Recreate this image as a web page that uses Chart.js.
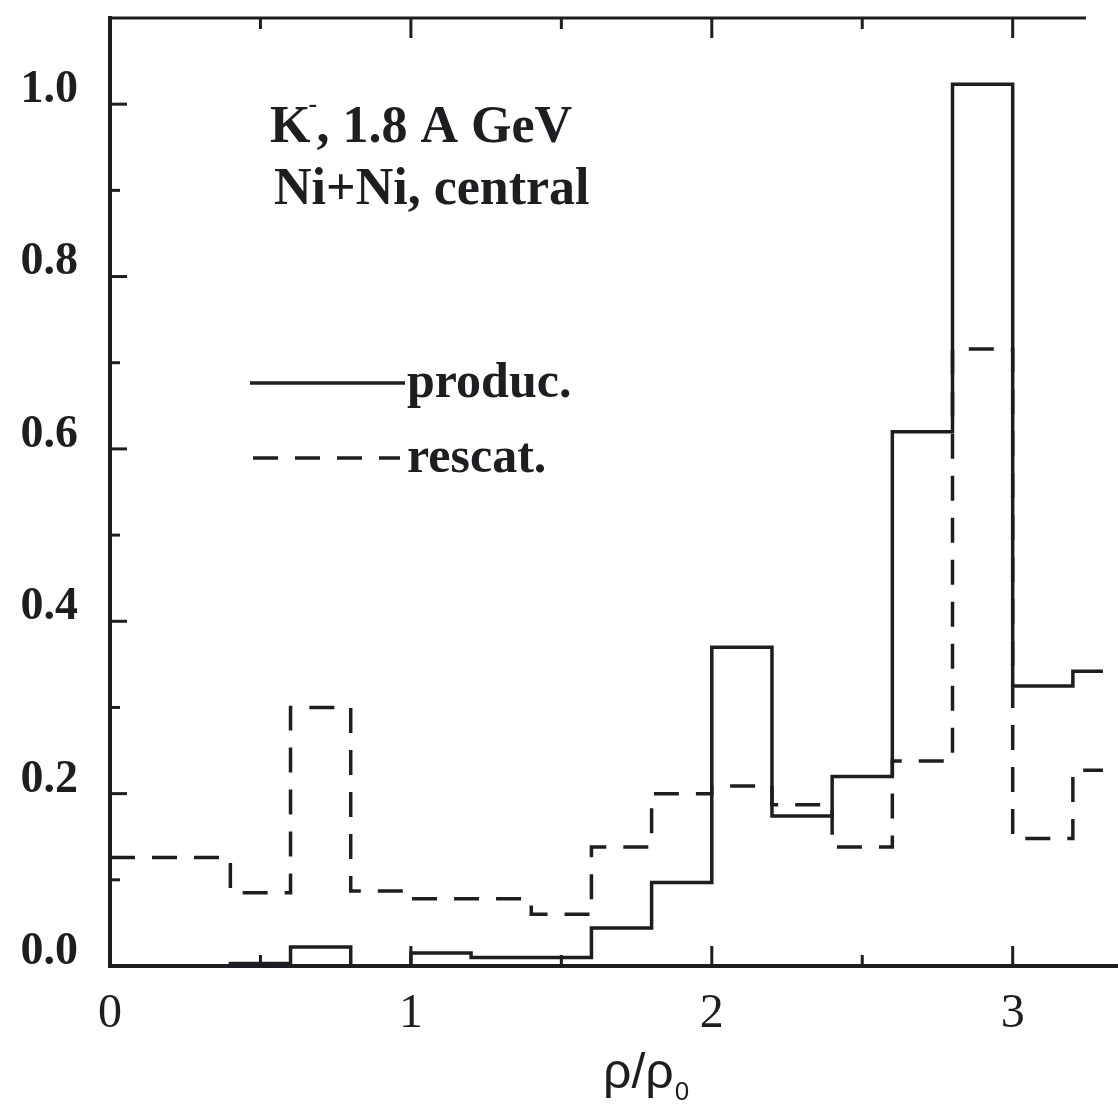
<!DOCTYPE html>
<html>
<head>
<meta charset="utf-8">
<style>
  html, body { margin: 0; padding: 0; background: #fff; }
  canvas { display: block; }
</style>
<script src="https://cdn.jsdelivr.net/npm/chart.js@4.4.1/dist/chart.umd.min.js"></script>
</head>
<body>
<canvas id="c" width="1118" height="1113"></canvas>
<script>
// Histogram bin edges in rho/rho0 (last bin is cut at the frame edge)
const binEdges = [0.0, 0.2, 0.4, 0.6, 0.8, 1.0, 1.2, 1.4, 1.6, 1.8, 2.0, 2.2, 2.4, 2.6, 2.8, 3.0, 3.2, 3.3];

// K- production density distribution (solid)
const produc = [0.0, 0.0, 0.003, 0.022, 0.0, 0.015, 0.010, 0.010, 0.044, 0.097, 0.370, 0.174, 0.220, 0.620, 1.023, 0.325, 0.342];

// K- last rescattering density distribution (dashed)
const rescat = [0.126, 0.126, 0.085, 0.300, 0.087, 0.078, 0.078, 0.060, 0.138, 0.200, 0.209, 0.187, 0.138, 0.238, 0.716, 0.148, 0.227];

const yTickValues = [0.0, 0.2, 0.4, 0.6, 0.8, 1.0];
const yTickLabels = ['0.0', '0.2', '0.4', '0.6', '0.8', '1.0'];
const xTickValues = [0, 1, 2, 3];
const xTickLabels = ['0', '1', '2', '3'];
const seriesNames = ['produc.', 'rescat.'];

const INK = '#1e1e22';
const DASH = [25, 17];

// Left-edge step points, plus a closing point at the right edge of the last bin
function toSteps(values) {
  const pts = values.map((v, i) => ({ x: binEdges[i], y: v }));
  pts.push({ x: binEdges[binEdges.length - 1], y: values[values.length - 1] });
  return pts;
}

// Inward tick marks on left, bottom and top edges, plus the top frame line
const frameTicks = {
  id: 'frameTicks',
  afterDraw(chart) {
    const { ctx, chartArea: a, scales: { x, y } } = chart;
    ctx.save();
    ctx.strokeStyle = INK;
    ctx.lineWidth = 3;
    ctx.setLineDash([]);
    // top frame line
    ctx.beginPath();
    ctx.moveTo(a.left, a.top);
    ctx.lineTo(1086, a.top);
    ctx.stroke();
    // y ticks every 0.1, major every 0.2
    for (let i = 0; i <= 10; i++) {
      const py = y.getPixelForValue(i / 10);
      const len = i % 2 === 0 ? 17 : 10;
      ctx.beginPath();
      ctx.moveTo(a.left, py);
      ctx.lineTo(a.left + len, py);
      ctx.stroke();
    }
    // x ticks every 0.5, major on integers
    for (let i = 0; i <= 6; i++) {
      const px = x.getPixelForValue(i / 2);
      const len = i % 2 === 0 ? 20 : 11;
      ctx.beginPath();
      ctx.moveTo(px, a.bottom);
      ctx.lineTo(px, a.bottom - len);
      ctx.stroke();
      if (px < 1086) {
        ctx.beginPath();
        ctx.moveTo(px, a.top);
        ctx.lineTo(px, a.top + len);
        ctx.stroke();
      }
    }
    ctx.restore();
  }
};

// Reaction label, legend and x-axis title
const annotations = {
  id: 'annotations',
  afterDraw(chart) {
    const ctx = chart.ctx;
    const ds = chart.data.datasets;
    ctx.save();
    ctx.fillStyle = INK;
    ctx.textBaseline = 'alphabetic';
    ctx.textAlign = 'left';

    // "K-, 1.8 A GeV"
    ctx.font = 'bold 52px "Liberation Serif", serif';
    ctx.fillText('K', 270, 142);
    let w = ctx.measureText('K').width;
    ctx.font = 'bold 26px "Liberation Serif", serif';
    ctx.fillText('-', 270 + w - 2, 112);
    ctx.font = 'bold 52px "Liberation Serif", serif';
    ctx.fillText(', 1.8 A GeV', 270 + w + 6, 142);
    ctx.fillText('Ni+Ni, central', 274, 204);

    // legend
    const rows = [
      { y: 383, text: seriesNames[0], x0: 250, x1: 405, dash: ds[0].borderDash || [] },
      { y: 458, text: seriesNames[1], x0: 253, x1: 400, dash: ds[1].borderDash || [] }
    ];
    rows.forEach((r, i) => {
      ctx.strokeStyle = ds[i].borderColor;
      ctx.lineWidth = ds[i].borderWidth;
      ctx.setLineDash(r.dash);
      ctx.beginPath();
      ctx.moveTo(r.x0, r.y);
      ctx.lineTo(r.x1, r.y);
      ctx.stroke();
      ctx.setLineDash([]);
      ctx.font = 'bold 50px "Liberation Serif", serif';
      ctx.fillText(r.text, 407, r.y + 14);
    });

    // x-axis title rho/rho_0
    ctx.font = '50px "Liberation Sans", sans-serif';
    ctx.fillText('\u03C1/\u03C1', 603, 1088);
    const tw = ctx.measureText('\u03C1/\u03C1').width;
    ctx.font = '26px "Liberation Sans", sans-serif';
    ctx.fillText('0', 603 + tw + 1, 1100);
    ctx.restore();
  }
};

new Chart(document.getElementById('c'), {
  type: 'line',
  data: {
    datasets: [
      {
        label: seriesNames[0],
        data: toSteps(produc),
        stepped: 'before',
        borderColor: INK,
        borderWidth: 3.5,
        pointRadius: 0,
        fill: false
      },
      {
        label: seriesNames[1],
        data: toSteps(rescat),
        stepped: 'before',
        borderColor: INK,
        borderWidth: 3.5,
        borderDash: DASH,
        pointRadius: 0,
        fill: false
      }
    ]
  },
  options: {
    responsive: false,
    animation: false,
    layout: { padding: { top: 18, right: 0, left: 0, bottom: 0 } },
    plugins: { legend: { display: false }, tooltip: { enabled: false } },
    scales: {
      x: {
        type: 'linear',
        min: 0,
        max: 3.35,
        afterFit(s) { s.height = 147; s.paddingLeft = 0; s.paddingRight = 0; },
        afterBuildTicks(s) { s.ticks = xTickValues.map(v => ({ value: v })); },
        ticks: {
          color: INK,
          padding: 20,
          font: { family: '"Liberation Serif", serif', size: 48 },
          callback: (v) => xTickLabels[xTickValues.indexOf(v)],
          maxRotation: 0
        },
        grid: { drawOnChartArea: false, drawTicks: false },
        border: { display: true, color: INK, width: 4 }
      },
      y: {
        type: 'linear',
        min: 0,
        max: 1.1,
        afterFit(s) { s.width = 110; s.paddingTop = 0; s.paddingBottom = 0; },
        afterBuildTicks(s) { s.ticks = yTickValues.map(v => ({ value: v })); },
        ticks: {
          color: INK,
          padding: 32,
          labelOffset: -14,
          font: { family: '"Liberation Serif", serif', size: 46, weight: 'bold' },
          callback: (v) => yTickLabels[yTickValues.indexOf(v)]
        },
        grid: { drawOnChartArea: false, drawTicks: false },
        border: { display: true, color: INK, width: 4 }
      }
    }
  },
  plugins: [frameTicks, annotations]
});
</script>
</body>
</html>
